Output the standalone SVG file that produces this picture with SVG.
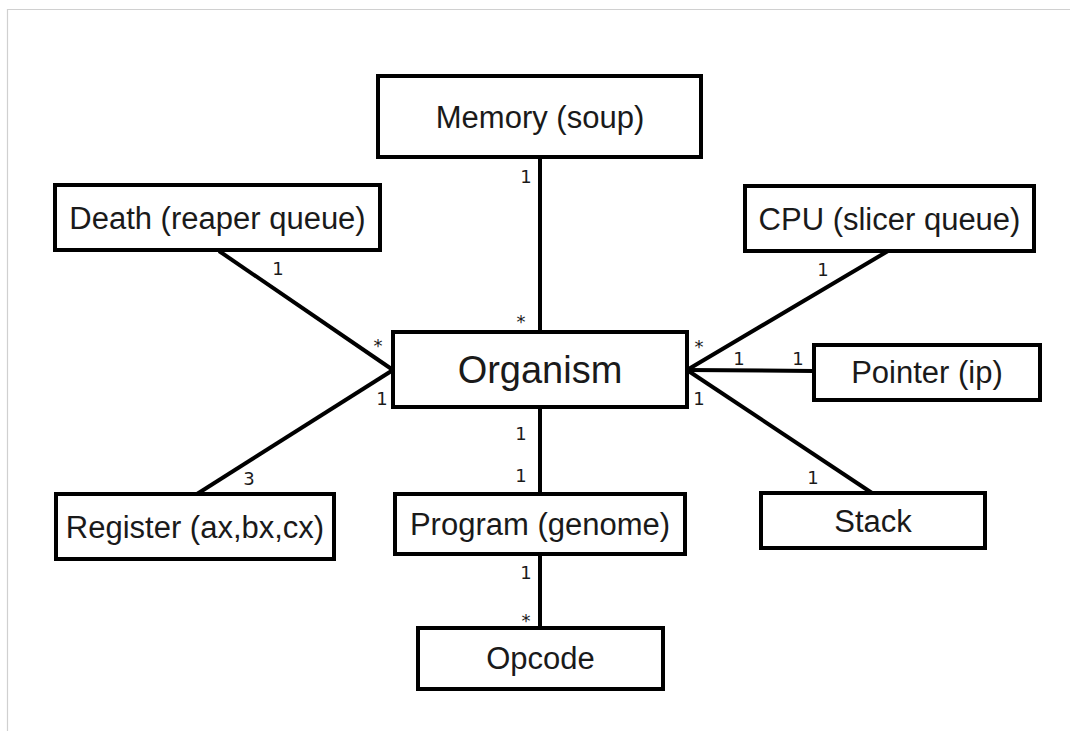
<svg xmlns="http://www.w3.org/2000/svg" width="1070" height="731" viewBox="0 0 1070 731">
<style>
.box{fill:#fff;stroke:#000;stroke-width:4}
.lbl{font-family:"Liberation Sans",Arial,sans-serif;font-size:31px;fill:#1a1a1a;text-anchor:middle}
.big{font-size:38px}
.m{font-family:"DejaVu Sans",sans-serif;font-size:18px;fill:#1a1a1a;text-anchor:middle}
.con{stroke:#000;stroke-width:4;fill:none}
</style>
<rect width="1070" height="731" fill="#fff"/>
<path d="M7.5 731 V9.5 H1070" fill="none" stroke="#d0d0d0" stroke-width="1.2"/>
<g id="connectors">
<line class="con" x1="540" y1="157" x2="540" y2="332"/>
<line class="con" x1="219" y1="251" x2="393" y2="370"/>
<line class="con" x1="197" y1="494" x2="393" y2="370"/>
<line class="con" x1="888" y1="251" x2="687" y2="370"/>
<line class="con" x1="687" y1="370" x2="814" y2="371"/>
<line class="con" x1="687" y1="370" x2="872" y2="493"/>
<line class="con" x1="540" y1="407" x2="540" y2="494"/>
<line class="con" x1="540" y1="554" x2="540" y2="628"/>
<text class="m" x="526" y="183">1</text>
<text class="m" x="521" y="328">*</text>
<text class="m" x="278" y="275">1</text>
<text class="m" x="378" y="352">*</text>
<text class="m" x="382" y="405">1</text>
<text class="m" x="249" y="485">3</text>
<text class="m" x="823" y="276">1</text>
<text class="m" x="699" y="353">*</text>
<text class="m" x="739" y="365">1</text>
<text class="m" x="798" y="365">1</text>
<text class="m" x="699" y="405">1</text>
<text class="m" x="813" y="484">1</text>
<text class="m" x="521" y="440">1</text>
<text class="m" x="521" y="482">1</text>
<text class="m" x="526" y="579">1</text>
<text class="m" x="526" y="627">*</text>
</g>
<g id="memory"><rect class="box" x="378" y="76" width="323" height="81"/><text class="lbl" x="540" y="128">Memory (soup)</text></g>
<g id="death"><rect class="box" x="55" y="185" width="325" height="65"/><text class="lbl" x="217.5" y="229">Death (reaper queue)</text></g>
<g id="cpu"><rect class="box" x="745" y="186" width="289" height="65"/><text class="lbl" x="889.5" y="230">CPU (slicer queue)</text></g>
<g id="organism"><rect class="box" x="393" y="332" width="294" height="75"/><text class="lbl big" x="540" y="383">Organism</text></g>
<g id="pointer"><rect class="box" x="814" y="345" width="226" height="55"/><text class="lbl" x="927" y="383">Pointer (ip)</text></g>
<g id="register"><rect class="box" x="56" y="494" width="278" height="65"/><text class="lbl" x="195" y="538">Register (ax,bx,cx)</text></g>
<g id="program"><rect class="box" x="395" y="494" width="290" height="60"/><text class="lbl" x="540" y="535">Program (genome)</text></g>
<g id="stack"><rect class="box" x="761" y="493" width="224" height="55"/><text class="lbl" x="873" y="532">Stack</text></g>
<g id="opcode"><rect class="box" x="418" y="628" width="245" height="61"/><text class="lbl" x="540.5" y="669">Opcode</text></g>
</svg>
